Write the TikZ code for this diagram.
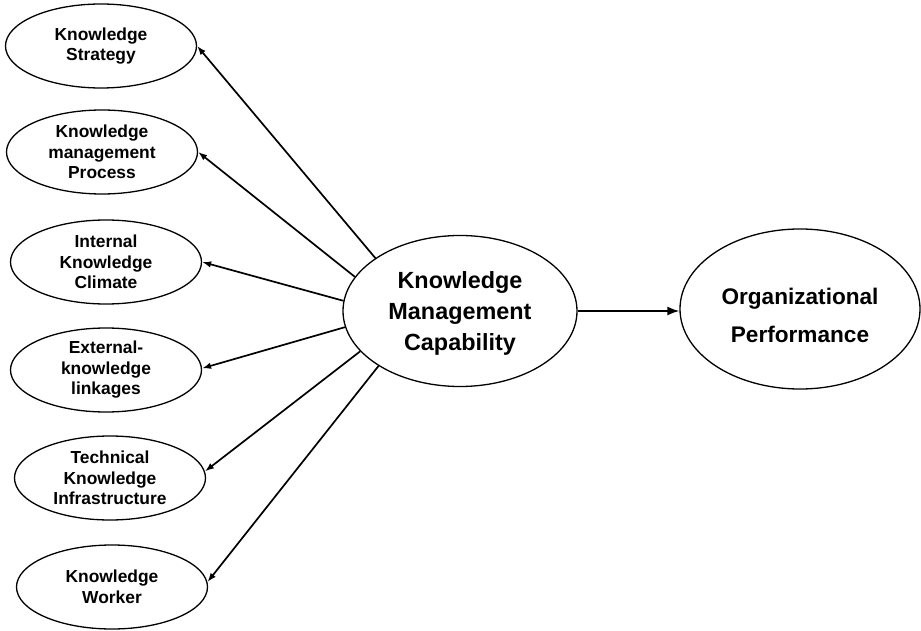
\documentclass[tikz,border=0pt]{standalone}
\usepackage{fontspec}
\setmainfont{Liberation Sans}
\usetikzlibrary{shapes.geometric,arrows.meta}
\begin{document}
\begin{tikzpicture}[x=1pt,y=-1pt,
  ell/.style={draw, ellipse, line width=1.3pt, inner sep=0pt},
  smallell/.style={ell, minimum width=191pt, minimum height=84pt},
  stxt/.style={align=center, inner sep=0pt, font=\fontsize{17.4}{20.5}\selectfont\bfseries},
  ctxt/.style={align=center, inner sep=0pt, font=\fontsize{23.4}{31}\selectfont\bfseries},
  otxt/.style={align=center, inner sep=0pt, font=\fontsize{22.6}{38}\selectfont\bfseries},
  arr/.style={line width=1.7pt, -{Latex[length=9pt,width=6.5pt]}},
  bigarr/.style={line width=1.8pt, -{Latex[length=12pt,width=9pt]}}
]
\useasboundingbox (0,0) rectangle (921,631);

% left ellipses
\node[smallell] (ks)  at (101,46) {};
\node[stxt] (ksT) at (ks) {Knowledge\\Strategy};
\node[smallell] (kmp) at (102,152) {};
\node[stxt] (kmpT) at (kmp) {Knowledge\\management\\Process};
\node[smallell] (ikc) at (106,262) {};
\node[stxt] (ikcT) at (ikc) {Internal\\Knowledge\\Climate};
\node[smallell] (ekl) at (106,370) {};
\node[stxt] (eklT) at (ekl) {External-\\knowledge\\linkages};
\node[smallell] (tki) at (110,478) {};
\node[stxt] (tkiT) at (tki) {Technical\\Knowledge\\Infrastructure};
\node[smallell] (kw)  at (112,587) {};
\node[stxt] (kwT) at (kw) {Knowledge\\Worker};

% central ellipse
\node[ell, minimum width=234pt, minimum height=151pt] (kmc) at (460,311) {};
\node[ctxt] (kmcT) at (460,313) {Knowledge\\Management\\Capability};

% right ellipse
\node[ell, minimum width=240pt, minimum height=160pt] (op) at (800,309) {};
\node[otxt] (opT) at (800,315) {Organizational\\Performance};

% arrows
\draw[arr] (kmc.148) -- (ks.east);
\draw[arr] (kmc.162) -- (kmp.east);
\draw[arr] (kmc.175) -- (ikc.east);
\draw[arr] (kmc.188) -- (ekl.1);
\draw[arr] (kmc.202) -- (tki.4);
\draw[arr] (kmc.214) -- (kw.3);
\draw[bigarr] (kmc.east) -- (kmc.east -| op.west);
\end{tikzpicture}
\end{document}
